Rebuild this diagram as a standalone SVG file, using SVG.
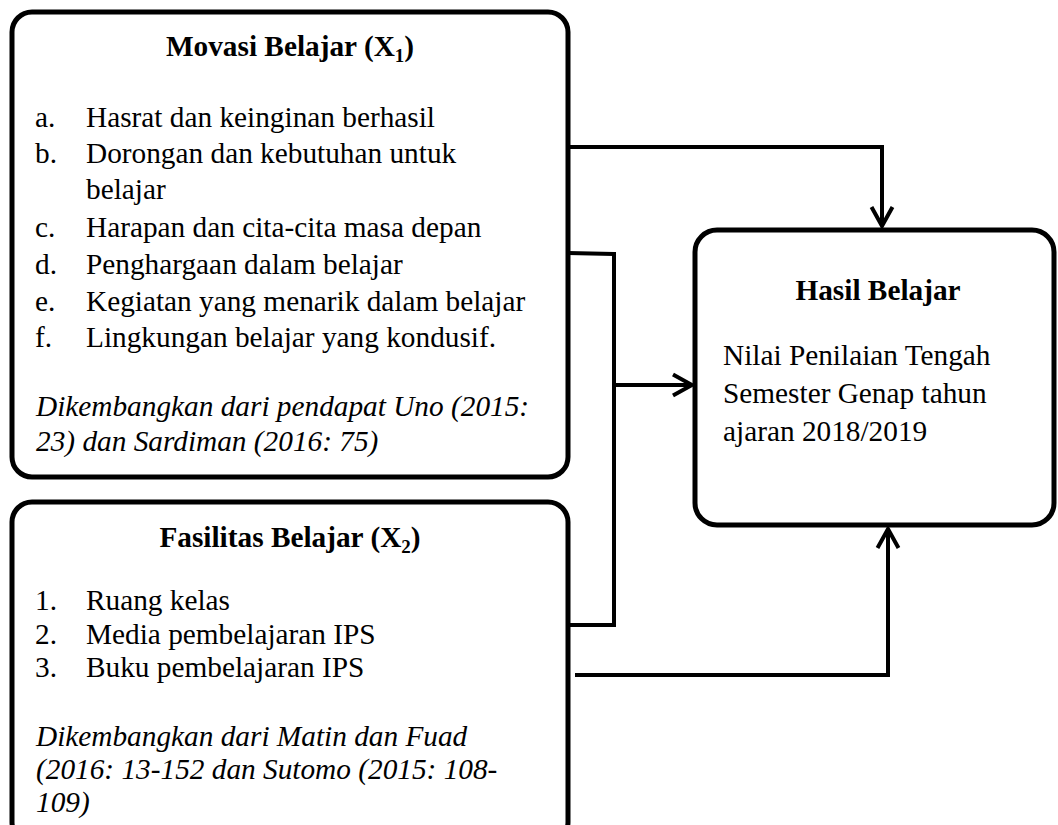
<svg xmlns="http://www.w3.org/2000/svg" width="1058" height="825" viewBox="0 0 1058 825">
<style>
.box{fill:#fff;stroke:#000;stroke-width:5}
.t{font-family:"Liberation Serif","Times New Roman",serif;font-size:29.3px;fill:#000}
.b{font-weight:bold}
.i{font-style:italic}
.c{fill:none;stroke:#000;stroke-width:4}
</style>
<defs>
<marker id="arr" viewBox="-24 -14 28 28" refX="0" refY="0" markerWidth="28" markerHeight="28" markerUnits="userSpaceOnUse" orient="auto">
<path d="M-19,-10.5 L0,0 L-19,10.5" fill="none" stroke="#000" stroke-width="4"/>
</marker>
</defs>
<rect width="1058" height="825" fill="#fff"/>
<g id="connectors">
<path class="c" d="M568 147 H882 V226" marker-end="url(#arr)"/>
<path class="c" d="M568 253 L614 254 M614 252 V627 M568 625 H614"/>
<path class="c" d="M614 385 H692" marker-end="url(#arr)"/>
<path class="c" d="M575 675 H888 V529" marker-end="url(#arr)"/>
</g>
<g id="motivasi">
<rect class="box" x="12" y="12" width="556" height="465" rx="20"/>
<text class="t b" x="290" y="56" text-anchor="middle">Movasi Belajar (X<tspan font-size="19" dy="6">1</tspan><tspan dy="-6">)</tspan></text>
<text class="t" x="35" y="127">a.</text><text class="t" x="86" y="127">Hasrat dan keinginan berhasil</text>
<text class="t" x="35" y="163">b.</text><text class="t" x="86" y="163">Dorongan dan kebutuhan untuk</text>
<text class="t" x="86" y="199">belajar</text>
<text class="t" x="35" y="237">c.</text><text class="t" x="86" y="237">Harapan dan cita-cita masa depan</text>
<text class="t" x="35" y="274">d.</text><text class="t" x="86" y="274">Penghargaan dalam belajar</text>
<text class="t" x="35" y="311">e.</text><text class="t" x="86" y="311">Kegiatan yang menarik dalam belajar</text>
<text class="t" x="35" y="347">f.</text><text class="t" x="86" y="347">Lingkungan belajar yang kondusif.</text>
<text class="t i" x="36" y="416">Dikembangkan dari pendapat Uno (2015:</text>
<text class="t i" x="36" y="451">23) dan Sardiman (2016: 75)</text>
</g>
<g id="fasilitas">
<rect class="box" x="12" y="502" width="556" height="340" rx="20"/>
<text class="t b" x="290" y="547" text-anchor="middle">Fasilitas Belajar (X<tspan font-size="19" dy="6">2</tspan><tspan dy="-6">)</tspan></text>
<text class="t" x="35" y="610">1.</text><text class="t" x="86" y="610">Ruang kelas</text>
<text class="t" x="35" y="644">2.</text><text class="t" x="86" y="644">Media pembelajaran IPS</text>
<text class="t" x="35" y="677">3.</text><text class="t" x="86" y="677">Buku pembelajaran IPS</text>
<text class="t i" x="36" y="746">Dikembangkan dari Matin dan Fuad</text>
<text class="t i" x="36" y="779">(2016: 13-152 dan Sutomo (2015: 108-</text>
<text class="t i" x="36" y="812">109)</text>
</g>
<g id="hasil">
<rect class="box" x="695" y="230" width="359" height="295" rx="22"/>
<text class="t b" x="878" y="300" text-anchor="middle">Hasil Belajar</text>
<text class="t" x="723" y="365">Nilai Penilaian Tengah</text>
<text class="t" x="723" y="403">Semester Genap tahun</text>
<text class="t" x="723" y="441">ajaran 2018/2019</text>
</g>
</svg>
